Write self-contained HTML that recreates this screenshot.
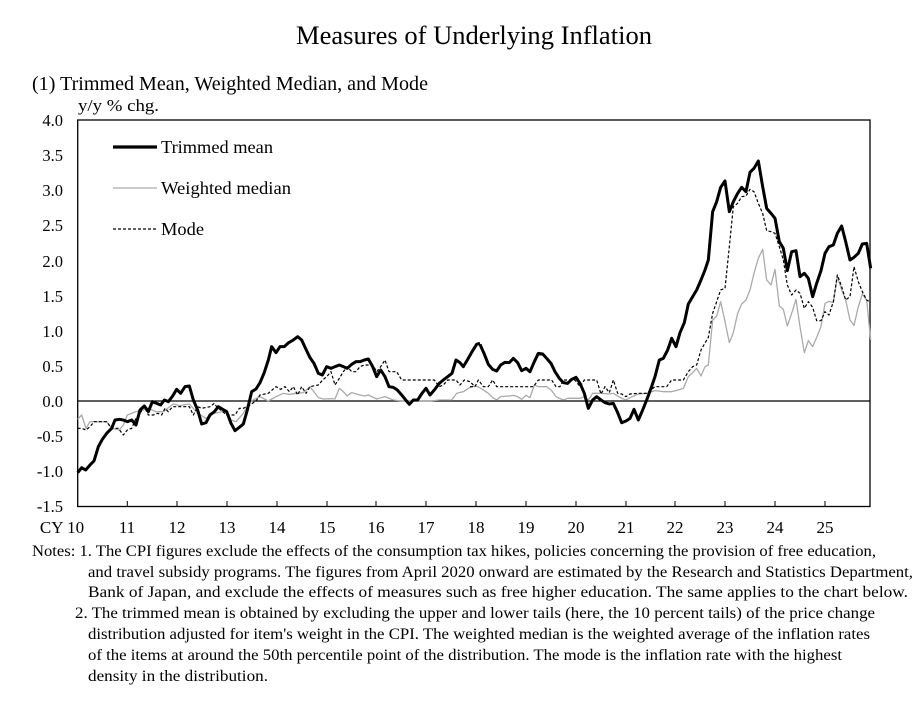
<!DOCTYPE html>
<html><head><meta charset="utf-8"><style>
body{margin:0;background:#fff;}
svg{display:block;font-family:"Liberation Serif",serif;}
</style></head><body>
<svg width="917" height="702" viewBox="0 0 917 702" xmlns="http://www.w3.org/2000/svg">
<text x="474" y="44" font-size="26.5" text-anchor="middle" textLength="356" lengthAdjust="spacingAndGlyphs">Measures of Underlying Inflation</text>
<text x="32" y="90" font-size="19.5" textLength="396" lengthAdjust="spacingAndGlyphs">(1) Trimmed Mean, Weighted Median, and Mode</text>
<text x="78" y="111" font-size="17" textLength="81" lengthAdjust="spacingAndGlyphs">y/y % chg.</text>
<g font-size="16.5" text-anchor="end">
<text x="63" y="126">4.0</text><text x="63" y="161">3.5</text><text x="63" y="196">3.0</text><text x="63" y="231">2.5</text><text x="63" y="267">2.0</text><text x="63" y="302">1.5</text><text x="63" y="337">1.0</text><text x="63" y="372">0.5</text><text x="63" y="407">0.0</text><text x="63" y="442">-0.5</text><text x="63" y="477">-1.0</text><text x="63" y="512">-1.5</text>
</g>
<g font-size="17" text-anchor="middle">
<text x="62" y="533">CY 10</text><text x="127" y="533">11</text><text x="177" y="533">12</text><text x="227" y="533">13</text><text x="277" y="533">14</text><text x="327" y="533">15</text><text x="376" y="533">16</text><text x="426" y="533">17</text><text x="476" y="533">18</text><text x="526" y="533">19</text><text x="576" y="533">20</text><text x="626" y="533">21</text><text x="675" y="533">22</text><text x="725" y="533">23</text><text x="775" y="533">24</text><text x="825" y="533">25</text>
</g>
<rect x="77.7" y="120" width="792.3" height="386.5" fill="none" stroke="#000" stroke-width="1.3"/>
<line x1="77.7" y1="401" x2="870" y2="401" stroke="#000" stroke-width="1.3"/>
<g stroke="#000" stroke-width="1">
<path d="M127.3 506v-5M177 506v-5M227 506v-5M277 506v-5M327 506v-5M376 506v-5M426 506v-5M476 506v-5M526 506v-5M576 506v-5M626 506v-5M675 506v-5M725 506v-5M775 506v-5M825 506v-5"/>
</g>
<line x1="113" y1="147" x2="157" y2="147" stroke="#000" stroke-width="3.2"/>
<text x="161" y="153" font-size="18" textLength="112" lengthAdjust="spacingAndGlyphs">Trimmed mean</text>
<line x1="113" y1="188" x2="157" y2="188" stroke="#aaa" stroke-width="1.3"/>
<text x="161" y="194" font-size="18" textLength="130" lengthAdjust="spacingAndGlyphs">Weighted median</text>
<line x1="113" y1="229" x2="157" y2="229" stroke="#000" stroke-width="1.2" stroke-dasharray="3,2"/>
<text x="161" y="235" font-size="18" textLength="43" lengthAdjust="spacingAndGlyphs">Mode</text>
<g fill="none" stroke-linejoin="round">
<g transform="translate(30,100) scale(0.33333)">
<polyline vector-effect="non-scaling-stroke" stroke="#aaa" stroke-width="1.3" points="143,958 155,945 168,985 180,965 230,965 245,985 268,990 280,975 292,945 318,935 340,930 355,925 378,935 400,935 430,912 450,917 478,912 503,940 528,955 552,940 578,935 590,930 603,960 618,965 640,940 660,905 690,890 715,903 738,890 760,880 778,883 800,880 820,878 840,860 865,893 880,897 905,896 915,897 928,865 940,875 952,888 965,878 990,885 1003,888 1015,885 1040,897 1065,890 1090,900 1115,903 1150,903 1200,903 1228,900 1265,900 1280,880 1300,875 1320,862 1335,858 1350,863"/>
<polyline vector-effect="non-scaling-stroke" stroke="#000" stroke-width="1.2" stroke-dasharray="3,2" points="143,985 155,985 168,990 180,980 193,965 230,965 245,985 265,985 280,1005 292,990 305,985 318,955 330,940 343,920 355,945 370,945 383,940 395,945 405,925 415,935 428,920 478,920 490,945 503,920 515,925 540,920 553,910 560,920 578,935 590,945 615,945 628,925 640,925 660,915 678,903 690,885 715,880 738,860 752,868 765,860 778,875 790,860 803,885 815,860 828,880 840,860 865,855 878,840 890,830 903,815 915,855 928,835 940,815 952,800 965,815 978,815 990,800 1003,795 1028,795 1040,815 1052,800 1065,780 1077,815 1100,815 1115,840 1138,840 1213,840 1228,860 1240,855 1253,840 1278,840 1290,855 1303,840 1320,845 1335,860"/>
<polyline vector-effect="non-scaling-stroke" stroke="#000" stroke-width="3" points="143,1118 155,1103 167,1110 180,1095 192,1083 205,1040 217,1018 230,1000 245,985 255,960 268,958 280,960 292,965 305,960 318,975 330,930 343,918 355,935 367,905 380,910 392,915 403,900 415,905 428,888 440,868 452,880 465,860 478,858 490,900 503,930 515,972 528,968 540,945 553,935 565,920 578,928 590,935 603,970 615,992 628,982 640,972 652,930 665,875 678,867 690,848 702,820 715,780 725,740 738,758 750,740 763,740 776,728 790,720 803,710 815,720 828,748 840,773 852,790 865,820 877,825 890,800 903,805 915,800 928,795 940,800 952,805 965,793 978,785 990,785 1003,780 1015,777 1028,800 1040,830 1052,810 1065,830 1077,860 1090,862 1102,870 1115,885 1127,900 1138,913 1150,900 1163,900 1176,880 1188,865 1200,885 1213,870 1228,850 1240,840 1253,830 1266,820 1278,780 1290,788 1300,800 1312,780 1325,757 1340,733 1350,730"/>
</g>
<g transform="translate(470,100) scale(0.33333)">
<polyline vector-effect="non-scaling-stroke" stroke="#aaa" stroke-width="1.3" points="30,863 55,880 68,893 80,900 92,890 118,888 130,886 143,890 155,898 168,886 180,893 193,855 205,860 230,860 245,872 258,890 280,900 293,895 330,895 343,890 355,900 368,880 393,880 418,882 430,880 455,895 468,900 480,893 505,882 530,880 555,872 580,875 605,875 618,872 640,865 655,830 668,818 680,805 693,828 705,800 715,795 728,660 740,648 752,605 765,665 778,728 790,698 803,640 815,612 828,600 840,570 852,520 865,475 878,448 890,540 903,555 915,508 928,618 940,628 952,678 965,640 978,598 990,680 1003,758 1015,722 1028,740 1040,712 1053,680 1065,610 1077,604 1090,608 1102,530 1115,570 1127,600 1140,660 1152,676 1165,620 1177,582 1190,600 1202,720"/>
<polyline vector-effect="non-scaling-stroke" stroke="#000" stroke-width="1.2" stroke-dasharray="3,2" points="0,860 15,860 25,840 40,860 55,860 68,840 80,860 190,860 205,840 245,840 258,860 270,860 280,840 315,840 330,860 343,840 380,840 393,882 405,860 418,878 430,840 443,880 455,882 468,890 480,882 505,880 530,880 555,860 590,860 605,840 640,840 655,815 668,800 680,795 693,750 715,712 728,640 740,605 752,570 765,565 778,440 790,320 803,310 815,290 828,288 840,268 852,275 865,310 878,340 890,392 903,395 915,400 928,440 940,480 952,555 965,585 978,570 990,580 1003,625 1015,605 1028,622 1040,662 1053,662 1065,635 1077,645 1090,605 1102,525 1115,560 1127,600 1140,590 1152,500 1165,545 1177,575 1190,600 1202,607"/>
<polyline vector-effect="non-scaling-stroke" stroke="#000" stroke-width="3" points="30,733 42,760 55,793 68,808 80,813 92,795 105,787 118,788 130,775 143,788 155,812 168,805 180,815 193,785 205,760 218,762 230,775 243,790 255,815 268,835 280,848 293,850 305,838 318,832 330,850 343,880 355,925 368,900 380,890 393,900 405,908 418,912 430,910 443,938 455,968 468,963 480,955 492,928 505,960 518,930 530,900 543,865 555,830 568,780 580,775 593,750 605,715 618,740 630,698 643,668 655,612 668,590 680,570 693,540 705,510 715,480 728,335 740,305 752,262 765,243 778,335 790,305 803,280 815,262 828,275 840,217 852,205 865,183 878,260 890,325 903,340 915,355 928,425 940,445 952,512 965,455 978,452 990,530 1003,520 1015,535 1028,590 1040,550 1053,512 1065,460 1077,440 1090,435 1102,400 1115,378 1127,425 1140,480 1152,472 1165,460 1177,432 1190,430 1202,505"/>
</g>
</g>
<g font-size="16" lengthAdjust="spacingAndGlyphs">
<text x="32" y="556" textLength="844" lengthAdjust="spacingAndGlyphs">Notes: 1. The CPI figures exclude the effects of the consumption tax hikes, policies concerning the provision of free education,</text>
<text x="88" y="577" textLength="825" lengthAdjust="spacingAndGlyphs">and travel subsidy programs. The figures from April 2020 onward are estimated by the Research and Statistics Department,</text>
<text x="88" y="597" textLength="820" lengthAdjust="spacingAndGlyphs">Bank of Japan, and exclude the effects of measures such as free higher education. The same applies to the chart below.</text>
<text x="75" y="618" textLength="800" lengthAdjust="spacingAndGlyphs">2. The trimmed mean is obtained by excluding the upper and lower tails (here, the 10 percent tails) of the price change</text>
<text x="88" y="639" textLength="782" lengthAdjust="spacingAndGlyphs">distribution adjusted for item's weight in the CPI. The weighted median is the weighted average of the inflation rates</text>
<text x="88" y="660" textLength="754" lengthAdjust="spacingAndGlyphs">of the items at around the 50th percentile point of the distribution. The mode is the inflation rate with the highest</text>
<text x="88" y="681" textLength="180" lengthAdjust="spacingAndGlyphs">density in the distribution.</text>
</g>
</svg>
</body></html>
